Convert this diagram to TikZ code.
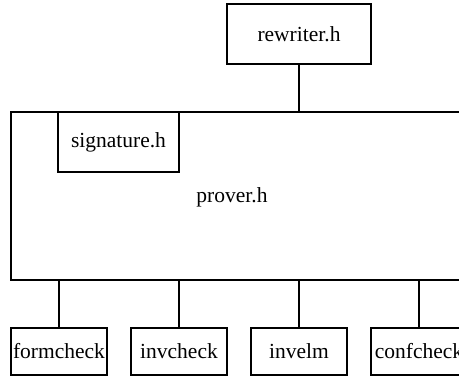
\documentclass[tikz,border=0pt]{standalone}
\usepackage{fontspec}
\setmainfont{Liberation Serif}
\begin{document}
\begin{tikzpicture}[x=1pt,y=-1pt,
  box/.style={draw=black, line width=1.8pt, inner sep=0pt, font=\fontsize{21.5}{24}\selectfont},
  wire/.style={draw=black, line width=1.8pt},
  lbl/.style={inner sep=0pt, font=\fontsize{21.5}{24}\selectfont}]
\useasboundingbox (0,0) rectangle (459,377);
\clip (0,0) rectangle (459,377);
\fill[white] (0,0) rectangle (459,377);
\node[box, minimum width=144pt, minimum height=60pt] (rew) at (299,34) {rewriter.h};
\node[box, minimum width=456pt, minimum height=168pt] (prover) at (239,196) {};
\node[lbl] (proverlbl) at (232,197) {prover.h};
\node[box, minimum width=121pt, minimum height=60pt] (sig) at (118.5,142) {signature.h};
\node[box, minimum width=96pt, minimum height=47pt] (form) at (59,351.5) {formcheck};
\node[box, minimum width=96pt, minimum height=47pt] (inv) at (179,351.5) {invcheck};
\node[box, minimum width=96pt, minimum height=47pt] (elm) at (299,351.5) {invelm};
\node[box, minimum width=96pt, minimum height=47pt] (conf) at (419,351.5) {confcheck};
\draw[wire] (rew.south) -- (rew.south |- prover.north);
\draw[wire] (form.north) -- (form.north |- prover.south);
\draw[wire] (inv.north) -- (inv.north |- prover.south);
\draw[wire] (elm.north) -- (elm.north |- prover.south);
\draw[wire] (conf.north) -- (conf.north |- prover.south);
\end{tikzpicture}
\end{document}
